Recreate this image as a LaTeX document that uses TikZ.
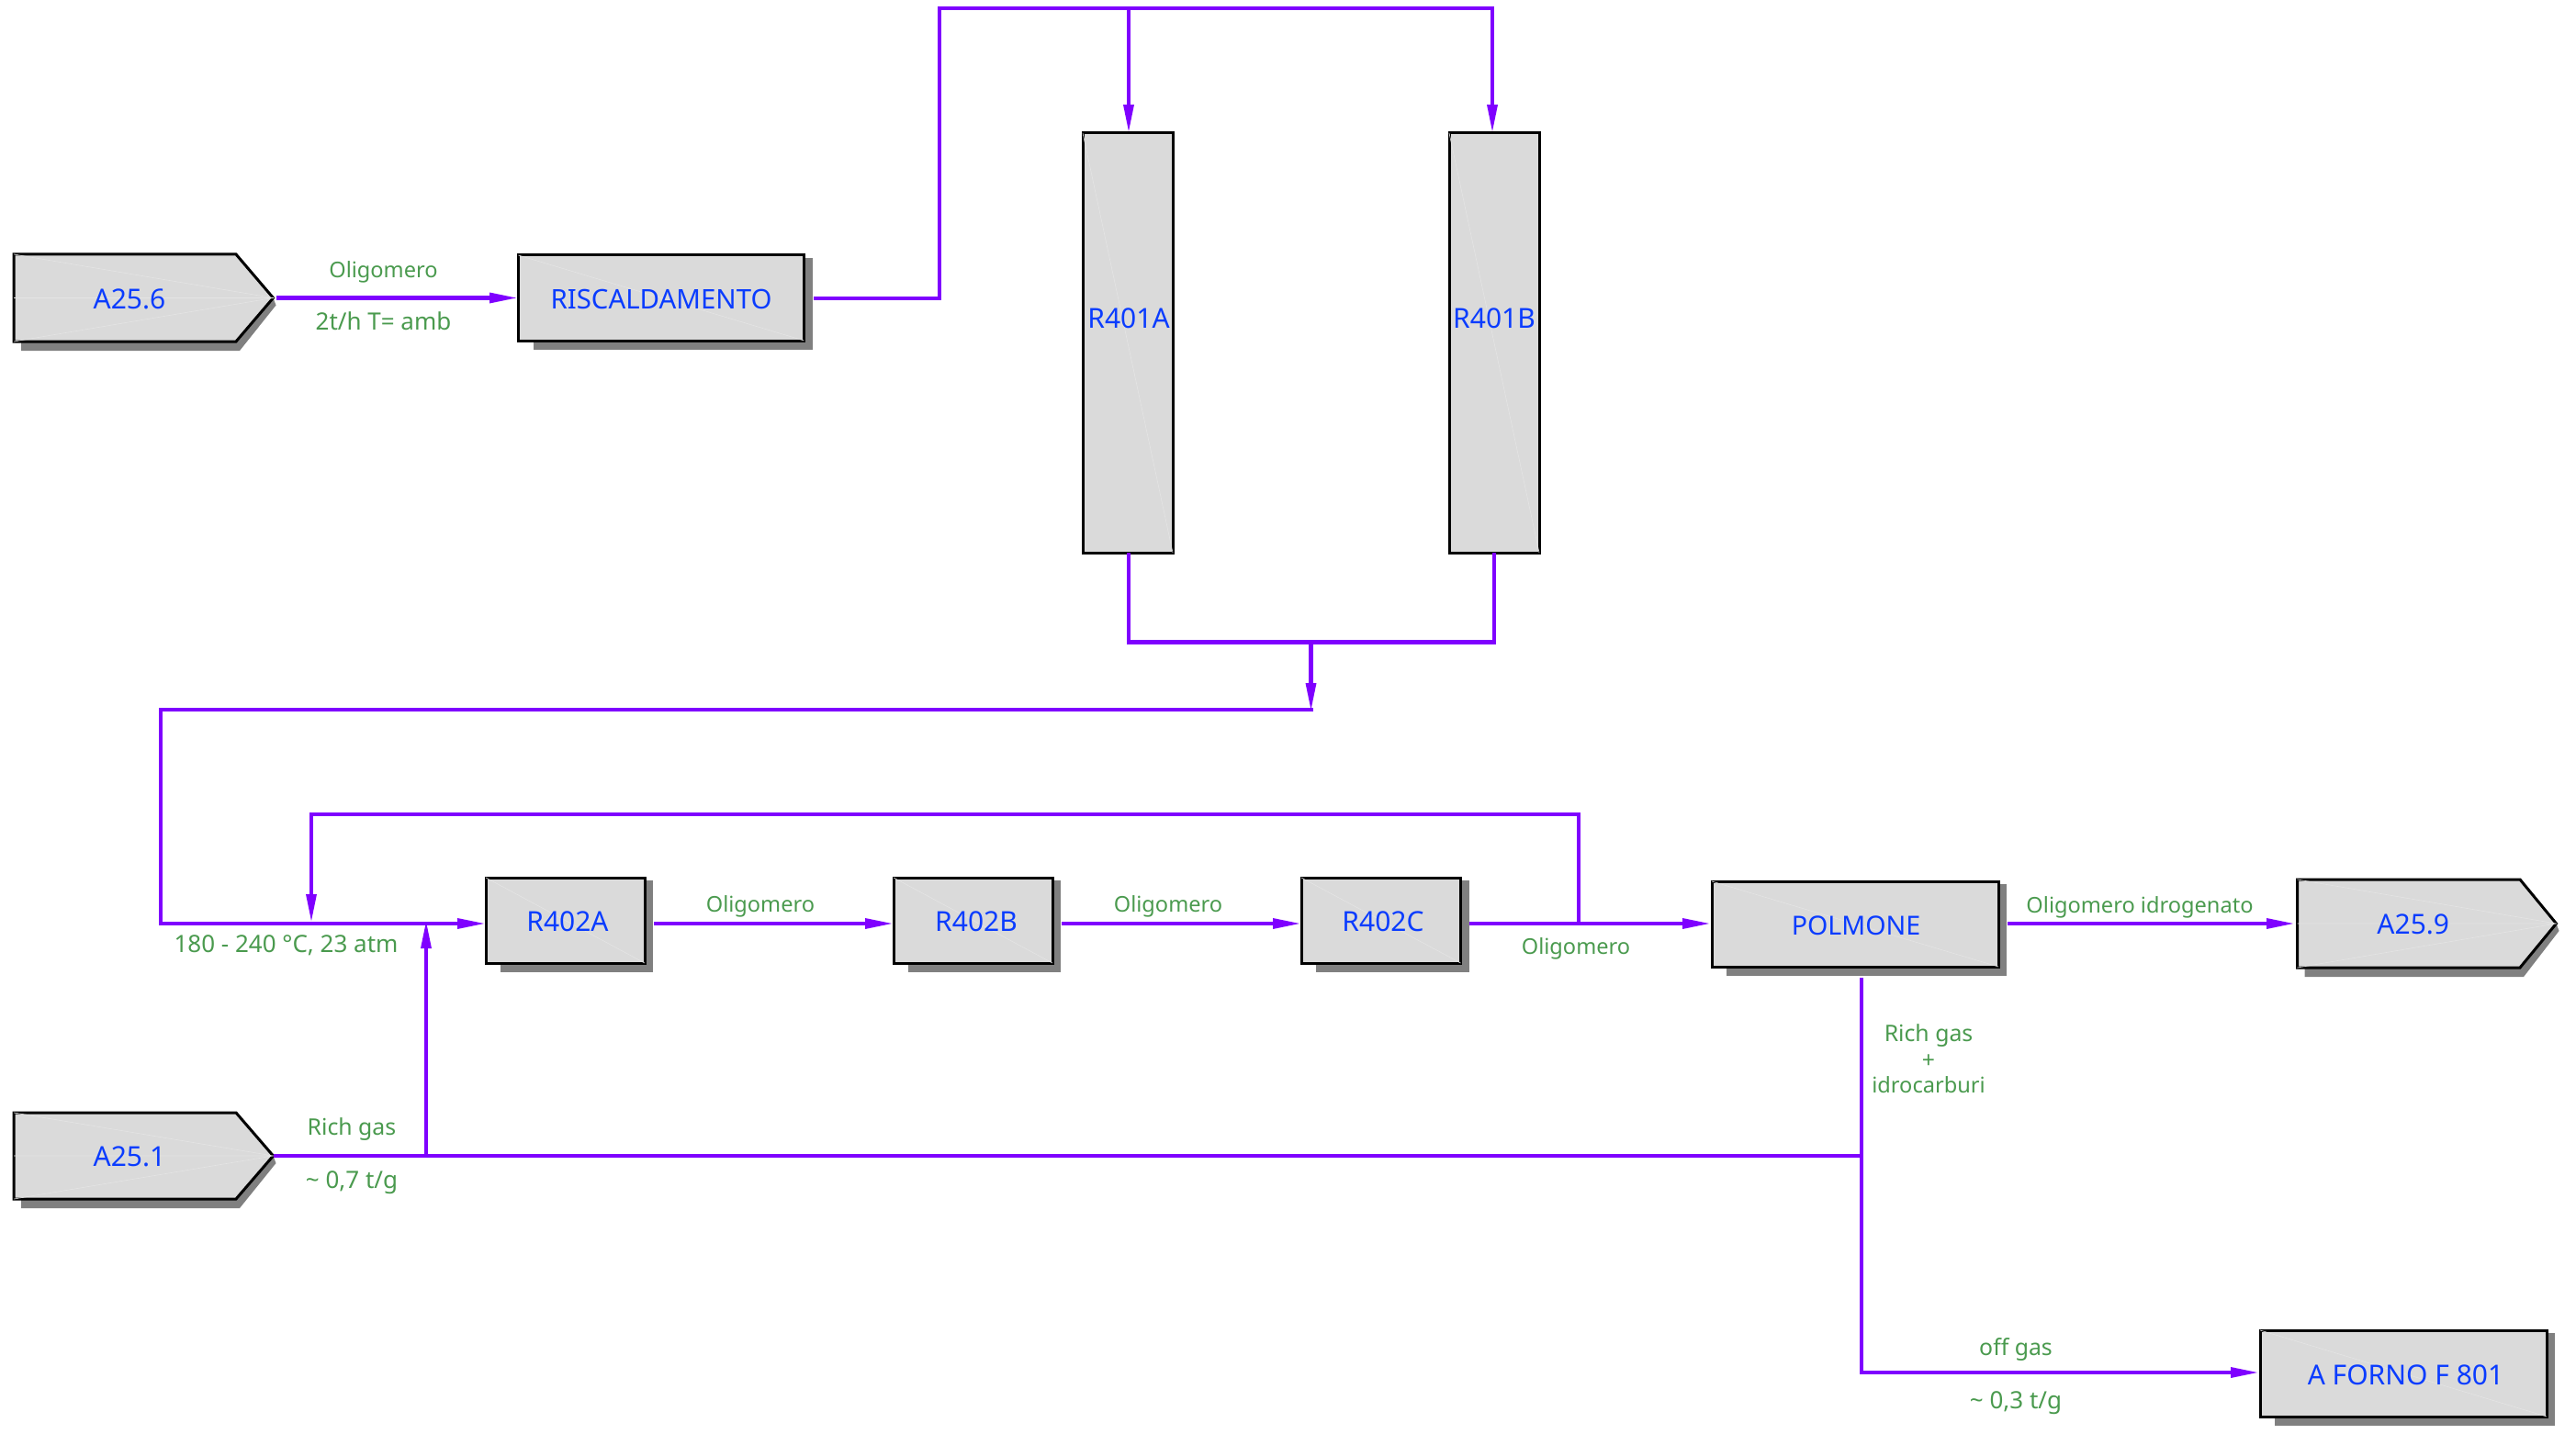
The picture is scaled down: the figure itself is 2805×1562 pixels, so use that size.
\documentclass[tikz,border=0pt]{standalone}
\usepackage{fontspec}
\setmainfont{Noto Sans}
\usetikzlibrary{arrows.meta,calc}
\definecolor{flowc}{HTML}{7F00FF}
\definecolor{namec}{HTML}{0A3CFF}
\definecolor{notec}{HTML}{4A9A4E}
\definecolor{fillc}{HTML}{DADADA}
\definecolor{shadc}{HTML}{808080}
\definecolor{glint}{HTML}{E4E4E4}
\tikzset{
  flow/.style={draw=flowc,line width=2.1pt},
  flowa/.style={flow,-{Triangle[length=14.5pt,width=6pt,line width=0pt]}},
  boxst/.style={draw=black,fill=fillc,line width=1.5pt,inner sep=0pt,outer sep=0pt},
  shad/.style={fill=shadc,draw=none},
  glintl/.style={draw=glint,line width=0.3pt},
  nametext/.style={text=namec,font=\fontsize{15}{15}\selectfont,inner sep=0pt},
  notetext/.style={text=notec,font=\fontsize{12.4}{12.4}\selectfont,inner sep=0pt},
  notenarrow/.style={text=notec,font=\fontsize{11.8}{12}\selectfont,inner sep=0pt},
  notewide/.style={text=notec,font=\fontsize{13}{13}\selectfont,inner sep=0pt},
}
% name, x1, y1, x2, y2, text x, text y, text
\newcommand\procbox[8]{%
  \fill[shad] ({#2+16},{#3+3}) rectangle ({#4+9},{#5+10});
  \node[boxst,minimum width={(#4-#2)*0.5pt},minimum height={(#5-#3)*0.5pt}] (#1) at ({(#2+#4)/2},{(#3+#5)/2}) {};
  \draw[glintl] (#2,#3) -- (#4,#5);
  \node[nametext] (#1-t) at (#6,#7) {#8};
}
% name, x1, y1, xs, xt, y2, text y, text
\newcommand\chevbox[8]{%
  \fill[shad] ({#2+8},{#6-4}) -- ({#2+8},{#6+10}) -- ({#4+4},{#6+10}) -- ({#5+3},{(#3+#6)/2+8}) -- (#5,{(#3+#6)/2}) -- ({#4},{#6-4}) -- cycle;
  \coordinate (#1) at (#5,{(#3+#6)/2});
  \coordinate (#1-w) at (#2,{(#3+#6)/2});
  \draw[boxst,line join=miter] (#2,#3) -- (#4,#3) -- (#5,{(#3+#6)/2}) -- (#4,#6) -- (#2,#6) -- cycle;
  \draw[glintl] (#2,{(#3+#6)/2}) -- (#5,{(#3+#6)/2}) (#2,#3) -- (#5,{(#3+#6)/2}) -- (#2,#6);
  \node[nametext] (#1-t) at ({(#2+#4)/2+5},#7) {#8};
}
\begin{document}
\begin{tikzpicture}[x=0.5pt,y=-0.5pt]
\useasboundingbox (0,0) rectangle (2805,1562);

\chevbox{a256}{15}{277}{257}{297.5}{372}{326}{A25.6}
\chevbox{a251}{15}{1212}{257}{297.5}{1306}{1260}{A25.1}
\chevbox{a259}{2501.5}{958}{2744}{2783.5}{1054}{1007}{A25.9}
\procbox{risc}{564.5}{278}{875.5}{371}{720}{326}{\fontsize{14.7}{15}\selectfont RISCALDAMENTO}
\procbox{r402a}{529}{956}{702}{1049}{618}{1004}{R402A}
\procbox{r402b}{973}{956}{1146}{1049}{1063}{1004}{R402B}
\procbox{r402c}{1417}{956}{1590.5}{1049}{1506}{1004}{R402C}
\procbox{polm}{1864}{960}{2176}{1053}{2021}{1008}{\fontsize{14.3}{15}\selectfont POLMONE}
\procbox{forno}{2461}{1449}{2773}{1543}{2619.5}{1498}{A FORNO F 801}

% reactors
\node[boxst,minimum width=49pt,minimum height=228.5pt] (r401a) at (1228,373.5) {};
\draw[glintl] (r401a.north west) -- (r401a.south east);
\node[nametext] (r401a-t) at (1229,347) {R401A};
\node[boxst,minimum width=49pt,minimum height=228.5pt] (r401b) at (1627,373.5) {};
\draw[glintl] (r401b.north west) -- (r401b.south east);
\node[nametext] (r401b-t) at (1627,347) {R401B};

% routing points
\coordinate (top) at (1229,9);
\coordinate (topl) at (1023,9);
\coordinate (topr) at (1625,9);
\coordinate (merge) at (1427.5,699.5);
\coordinate (back) at (1427.5,773);
\coordinate (backl) at (175,773);
\coordinate (row) at (175,1006);
\coordinate (recyr) at (1719,887);
\coordinate (recyl) at (339,887);
\coordinate (recyd) at (339,1006);
\coordinate (recys) at (1719,1006);
\coordinate (gas) at (464,1259);
\coordinate (gasj) at (2027,1259);
\coordinate (gasd) at (2027,1495);

% flows
\draw[flowa,shorten <=1.75pt,shorten >=1.25pt] (a256) -- (risc.west);
\draw[flowa,shorten <=5pt,shorten >=1pt] ([yshift=-0.25pt]risc.east) -| (topl) -- (topr) -- (r401b.north -| topr);
\draw[flowa,shorten >=1pt] (top) -- (r401a.north -| top);
\draw[flow] (r401a.south -| top) |- (merge) -| (r401b.south);
\draw[flow] ([xshift=1pt]back) -- (backl) -- (row);
\draw[flowa] (merge) -- (back);
\draw[flowa,shorten >=1pt] (backl) -- (row) -- (r402a.west |- row);
\draw[flowa,shorten >=1.5pt] (recys) -- (recyr) -- (recyl) -- (recyd);
\draw[flowa,shorten <=5pt,shorten >=1pt] (r402a.east |- row) -- (r402b.west |- row);
\draw[flowa,shorten <=5pt,shorten >=1pt] (r402b.east |- row) -- (r402c.west |- row);
\draw[flowa,shorten <=4.5pt,shorten >=1.5pt] (r402c.east |- row) -- (polm.west |- row);
\draw[flowa,shorten <=5pt,shorten >=2.25pt] (polm.east |- row) -- (a259-w);
\draw[flow] (a251) -- (gasj);
\draw[flowa,shorten >=-1pt] (gas) -- (gas |- row);
\draw[flowa,shorten <=6pt,shorten >=1.5pt,line width=1.9pt] (polm.south -| gasj) -- (gasd) -- (forno.west |- gasd);

% labels
\node[notenarrow] (l1) at (417.5,296) {Oligomero};
\node[notewide] (l2) at (417.5,350) {2t/h T= amb};
\node[notewide] (l3) at (311.5,1030) {180 - 240 °C, 23 atm};
\node[notenarrow] (l4) at (828,987) {Oligomero};
\node[notenarrow] (l5) at (1272,987) {Oligomero};
\node[notenarrow] (l6) at (1716,1033) {Oligomero};
\node[notenarrow] (l7) at (2330,988) {Oligomero idrogenato};
\node[notetext] (l8) at (2100,1128) {Rich gas};
\node[notetext] (l9) at (2100,1156) {+};
\node[notenarrow] (l10) at (2100,1182) {idrocarburi};
\node[notetext] (l11) at (2195,1470) {off gas};
\node[notewide] (l12) at (2195,1528) {\char"7E{} 0,3 t/g};
\node[notetext] (l13) at (383,1230) {Rich gas};
\node[notewide] (l14) at (383,1288) {\char"7E{} 0,7 t/g};
\end{tikzpicture}
\end{document}
